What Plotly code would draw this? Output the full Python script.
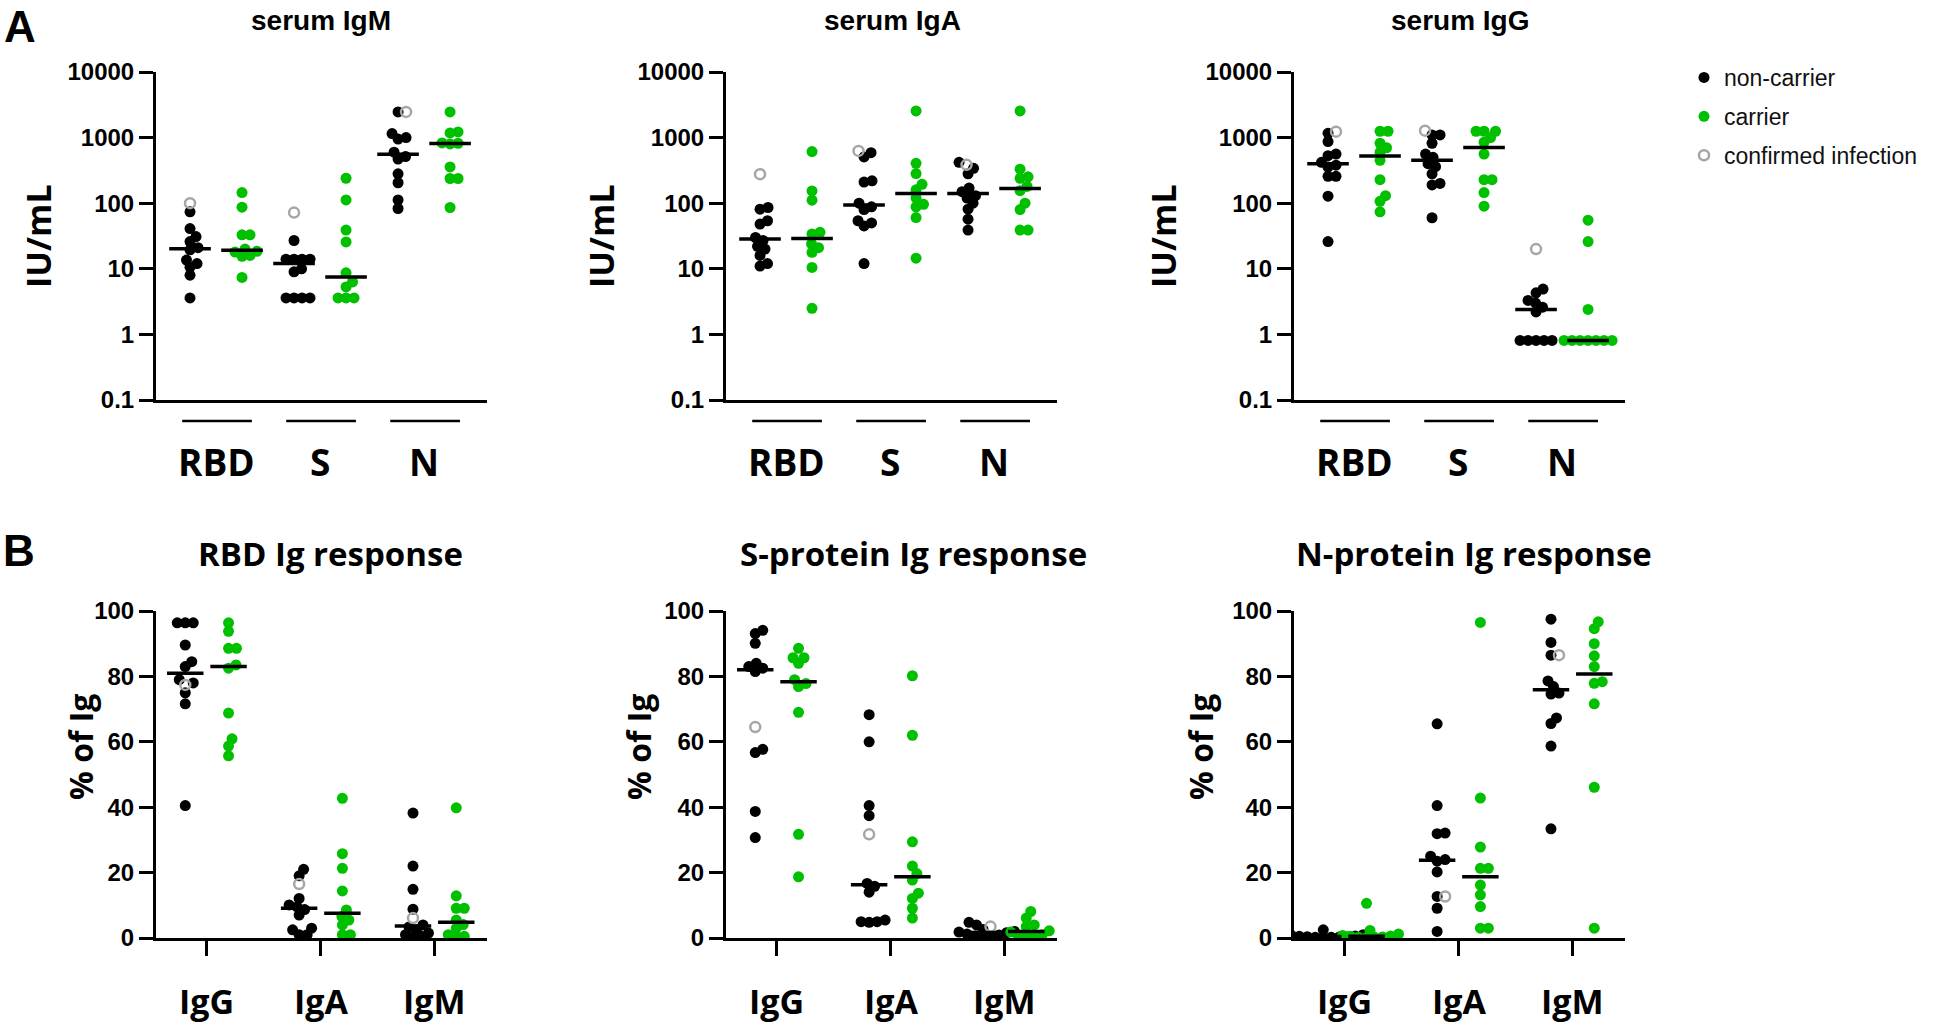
import numpy as np
import plotly.graph_objects as go

W, H = 1944, 1027

# ---------------- data ----------------
A_categories = ["RBD", "S", "N"]
B_categories = ["IgG", "IgA", "IgM"]
A_titles = ["serum IgM", "serum IgA", "serum IgG"]
B_titles = ["RBD Ig response", "S-protein Ig response", "N-protein Ig response"]
A_tickvals = [0.1, 1, 10, 100, 1000, 10000]
A_ticklabels = ["0.1", "1", "10", "100", "1000", "10000"]
B_tickvals = [0, 20, 40, 60, 80, 100]
B_ticklabels = ["0", "20", "40", "60", "80", "100"]

# Panel A: serum IU/mL, lists per antigen (RBD, S, N)
igm_noncarrier = [[74, 41, 31, 26, 21, 19.5, 13.6, 12, 10.6, 8.0, 3.6],
                  [27, 14, 14, 14, 14, 10, 9, 3.6, 3.6, 3.6, 3.6],
                  [2460, 1150, 1000, 950, 600, 515, 470, 280, 205, 112, 83]]
igm_confirmed = [100, 72, 2460]
igm_carrier = [[145, 87, 33, 33, 20, 18.5, 18, 16, 15.5, 7.4],
               [240, 112, 39, 25.7, 8.7, 6.3, 5.3, 3.6, 3.6, 3.6],
               [2460, 1220, 1180, 830, 820, 800, 357, 238, 238, 86]]

iga_noncarrier = [[86, 81, 54, 48, 30, 27, 22, 20, 16, 12, 11],
                  [590, 508, 219, 210, 100, 88, 80, 54, 50, 45, 12],
                  [420, 340, 280, 170, 150, 130, 120, 100, 81, 57, 39]]
iga_confirmed = [277, 626, 384]
iga_carrier = [[612, 154, 111, 36, 34, 24, 21, 17.8, 10.5, 2.5],
               [2550, 406, 283, 194, 160, 120, 96, 88, 60.5, 14.5],
               [2550, 330, 252, 240, 180, 155, 100, 80, 39, 39]]

igg_noncarrier = [[1164, 870, 560, 530, 420, 380, 355, 257, 257, 128, 26],
                  [1100, 1100, 820, 560, 500, 400, 360, 280, 200, 190, 60],
                  [4.9, 4.3, 3.3, 3.0, 2.6, 2.2, 0.81, 0.81, 0.81, 0.81, 0.81]]
igg_confirmed = [1233, 1276, 20]
igg_carrier = [[1250, 1250, 820, 700, 600, 450, 228, 130, 107, 74],
               [1250, 1250, 1250, 1000, 850, 560, 228, 228, 145, 90],
               [55, 26, 2.4, 0.81, 0.81, 0.81, 0.81, 0.81, 0.81, 0.81]]

# Panel B: % of Ig, lists per isotype (IgG, IgA, IgM)
rbd_noncarrier = [[96.4, 96.4, 96.4, 89.6, 84.5, 83, 79, 78, 75, 71.6, 40.5],
                  [21, 19, 12.1, 10.1, 9.5, 8.7, 7, 3, 2.5, 1, 1],
                  [38.2, 22, 14.9, 8.8, 4, 3.4, 2.5, 1.5, 1, 0.5, 0.3]]
rbd_confirmed = [77.4, 16.5, 6.1]
rbd_carrier = [[96.4, 93.8, 88.6, 88.6, 83.5, 82.5, 68.8, 60.9, 58.7, 55.7],
               [42.7, 25.8, 21.3, 14.4, 8.6, 6.6, 5.5, 4, 1, 1],
               [39.8, 12.9, 9.1, 9.1, 5.5, 4.1, 3, 1, 0.5, 0.5]]

s_noncarrier = [[94.1, 93.1, 90.1, 84, 83, 82.5, 81.5, 57.7, 56.7, 38.7, 30.7],
                [68.3, 60, 40.5, 37.4, 16.7, 15.8, 14, 5.5, 5, 5, 4.8],
                [4.8, 4.0, 2.6, 2.0, 1.8, 1.6, 1.2, 0.9, 0.6, 0.4, 0.2]]
s_confirmed = [64.5, 31.7, 3.5]
s_carrier = [[88.6, 85.7, 85.7, 84, 79, 77.8, 76.9, 69, 31.7, 18.7],
             [80.2, 62, 29.4, 22, 19.7, 17.7, 13.7, 12.1, 9.1, 6.1],
             [8.1, 6.1, 4, 3.5, 2.2, 1.8, 1, 0.8, 0.5, 0.3]]

n_noncarrier = [[2.5, 1.5, 1, 0.8, 0.6, 0.5, 0.4, 0.3, 0.2, 0.2, 0.1],
                [65.5, 40.5, 32.1, 31.9, 25, 24, 23.5, 20.2, 12.7, 9.1, 2],
                [97.5, 90.4, 86.5, 78.6, 76.9, 74.9, 74.6, 67.3, 65.6, 58.7, 33.4]]
n_confirmed = [0.4, 12.7, 86.5]
n_carrier = [[10.6, 2.3, 1.2, 0.8, 0.6, 0.5, 0.3, 0.2, 0.2, 0.1],
             [96.5, 42.8, 27.8, 21.3, 21.3, 16.2, 13.2, 9.6, 3, 3],
             [96.7, 94.6, 90, 86.3, 83, 78.4, 77.9, 71.6, 46.1, 3]]

# ---------------- layout geometry ----------------
COL_X = [156, 726, 1294]
PLOT_W = 331
ROW_A = (72, 400)
ROW_B = (611, 938)
A_XRANGE = [-0.654, 5.71]      # 52 px per unit
B_XRANGE = [-0.447, 2.46]      # 114 px per unit
A_PX_PER_UNIT = 52.0
B_PX_PER_UNIT = 114.0
A_PX_PER_DECADE = (ROW_A[1] - ROW_A[0]) / 5.0
B_PX_PER_PCT = (ROW_B[1] - ROW_B[0]) / 100.0

BLACK = "#000000"
GREEN = "#00c000"
GRAY = "#a6a6a6"
MSIZE = 11


def swarm(py, min_dist=7.8, step=0.5):
    py = np.asarray(py, float)
    order = np.argsort(py, kind="stable")
    placed = []
    offs = np.zeros(len(py))
    for i in order:
        k = 0
        found = None
        while found is None:
            cands = [0.0] if k == 0 else [k * step, -k * step]
            for c in cands:
                if all((c - ox) ** 2 + (py[i] - oy) ** 2 >= min_dist ** 2 for ox, oy in placed):
                    found = c
                    break
            k += 1
        offs[i] = found
        placed.append((found, py[i]))
    return offs


fig = go.Figure()

panels = [
    dict(kind="A", nc=igm_noncarrier, inf=igm_confirmed, c=igm_carrier),
    dict(kind="A", nc=iga_noncarrier, inf=iga_confirmed, c=iga_carrier),
    dict(kind="A", nc=igg_noncarrier, inf=igg_confirmed, c=igg_carrier),
    dict(kind="B", nc=rbd_noncarrier, inf=rbd_confirmed, c=rbd_carrier),
    dict(kind="B", nc=s_noncarrier, inf=s_confirmed, c=s_carrier),
    dict(kind="B", nc=n_noncarrier, inf=n_confirmed, c=n_carrier),
]

first_legend = True
for p_i, pan in enumerate(panels):
    ax = "" if p_i == 0 else str(p_i + 1)
    xa, ya = "x" + ax, "y" + ax
    isA = pan["kind"] == "A"
    for g in range(3):
        if isA:
            pos_nc, pos_c = 2 * g, 2 * g + 1
            to_px = lambda v: np.log10(np.asarray(v, float)) * A_PX_PER_DECADE
            ppu = A_PX_PER_UNIT
            half = 0.40
        else:
            pos_nc, pos_c = g - 0.19, g + 0.19
            to_px = lambda v: np.asarray(v, float) * B_PX_PER_PCT
            ppu = B_PX_PER_UNIT
            half = 0.16
        nc_vals = list(pan["nc"][g])
        inf_val = pan["inf"][g]
        all_nc = nc_vals + [inf_val]
        offs_nc = swarm(to_px(all_nc)) / ppu
        c_vals = list(pan["c"][g])
        offs_c = swarm(to_px(c_vals)) / ppu

        show = first_legend and g == 0
        fig.add_trace(go.Scatter(
            x=list(pos_nc + offs_nc[:-1]), y=nc_vals, mode="markers",
            marker=dict(color=BLACK, size=MSIZE, line=dict(width=0)),
            name="non-carrier", legendrank=1, legendgroup="nc",
            showlegend=show, xaxis=xa, yaxis=ya, hoverinfo="y"))
        fig.add_trace(go.Scatter(
            x=[pos_nc + offs_nc[-1]], y=[inf_val], mode="markers",
            marker=dict(color=GRAY, size=MSIZE - 1, symbol="circle-open", line=dict(width=2.5, color=GRAY)),
            name="confirmed infection", legendrank=3, legendgroup="inf",
            showlegend=show, xaxis=xa, yaxis=ya, hoverinfo="y"))
        fig.add_trace(go.Scatter(
            x=list(pos_c + offs_c), y=c_vals, mode="markers",
            marker=dict(color=GREEN, size=MSIZE, line=dict(width=0)),
            name="carrier", legendrank=2, legendgroup="c",
            showlegend=show, xaxis=xa, yaxis=ya, hoverinfo="y"))
        med_nc = float(np.median(all_nc))
        med_c = float(np.median(c_vals))
        for pos, med in ((pos_nc, med_nc), (pos_c, med_c)):
            fig.add_trace(go.Scatter(
                x=[pos - half, pos + half], y=[med, med], mode="lines",
                line=dict(color=BLACK, width=3.5), showlegend=False,
                xaxis=xa, yaxis=ya, hoverinfo="skip"))
    first_legend = False

# ---------------- axes ----------------
layout_axes = {}
for p_i in range(6):
    col = p_i % 3
    isA = p_i < 3
    ax = "" if p_i == 0 else str(p_i + 1)
    x0 = COL_X[col]
    top, bot = ROW_A if isA else ROW_B
    xdom = [x0 / W, (x0 + PLOT_W) / W]
    ydom = [1 - bot / H, 1 - top / H]
    xa = dict(domain=xdom, anchor="y" + ax, showline=True, linewidth=3, linecolor=BLACK,
              showgrid=False, zeroline=False, fixedrange=True, automargin=False)
    ya = dict(domain=ydom, anchor="x" + ax, showline=True, linewidth=3, linecolor=BLACK,
              showgrid=False, zeroline=False, ticks="outside", ticklen=14, tickwidth=3,
              tickcolor=BLACK, fixedrange=True, automargin=False,
              tickfont=dict(family="Liberation Sans, Arial", size=24, color=BLACK, weight="bold"))
    if isA:
        xa.update(range=A_XRANGE, showticklabels=False, ticks="")
        ya.update(type="log", range=[-1, 4], tickvals=A_tickvals, ticktext=A_ticklabels)
    else:
        xa.update(range=B_XRANGE, showticklabels=False, ticks="outside", ticklen=15,
                  tickwidth=3, tickcolor=BLACK, tickvals=[0, 1, 2])
        ya.update(range=[0, 100], tickvals=B_tickvals, ticktext=B_ticklabels)
    layout_axes["xaxis" + ax] = xa
    layout_axes["yaxis" + ax] = ya

fig.update_layout(**layout_axes)

# ---------------- annotations & shapes ----------------
ann = []
shapes = []


def txt(text, px, py, size, family, rot=0, weight="bold", xanchor="center",
        yanchor="middle", color=BLACK):
    ann.append(dict(text=text, x=px / W, y=1 - py / H, xref="paper", yref="paper",
                    showarrow=False, textangle=rot, xanchor=xanchor, yanchor=yanchor,
                    font=dict(size=size, family=family, color=color, weight=weight)))


TITLE_FONT = "Liberation Sans, Arial"
OS = "Open Sans"
a_title_x = [321, 892, 1460]
b_title_x = [330, 913, 1474]
iu_x = [38, 601, 1163]
pct_x = [80, 638, 1200]
for col in range(3):
    txt(A_titles[col], a_title_x[col], 21, 28, TITLE_FONT)
    txt(B_titles[col], b_title_x[col], 553, 33, OS)
    txt("IU/mL", iu_x[col], 236, 34, OS, rot=-90)
    txt("% of Ig", pct_x[col], 747, 32, OS, rot=-90)
    ax = "" if col == 0 else str(col + 1)
    axb = str(col + 4)
    for g, lab in enumerate(A_categories):
        ann.append(dict(text=lab, x=2 * g + 0.5, y=1 - 461 / H, xref="x" + ax, yref="paper",
                        showarrow=False, xanchor="center", yanchor="middle",
                        font=dict(size=37, family=OS, color=BLACK, weight="bold")))
        shapes.append(dict(type="line", xref="x" + ax, yref="paper",
                           x0=2 * g - 0.15, x1=2 * g + 1.19, y0=1 - 421 / H, y1=1 - 421 / H,
                           line=dict(color=BLACK, width=2.5)))
    for g, lab in enumerate(B_categories):
        ann.append(dict(text=lab, x=g, y=1 - 1001 / H, xref="x" + axb, yref="paper",
                        showarrow=False, xanchor="center", yanchor="middle",
                        font=dict(size=34, family=OS, color=BLACK, weight="bold")))

txt("A", 20, 0, 44, TITLE_FONT, yanchor="top")
txt("B", 19, 524, 44, TITLE_FONT, yanchor="top")

fig.update_layout(
    annotations=ann, shapes=shapes,
    width=W, height=H, autosize=False,
    margin=dict(l=0, r=0, t=0, b=0, autoexpand=False),
    paper_bgcolor="white", plot_bgcolor="white",
    showlegend=True,
    legend=dict(x=1684 / W, y=1 - 56 / H, xanchor="left", yanchor="top",
                font=dict(family="Liberation Sans, Arial", size=23, color="#111111"),
                bgcolor="rgba(0,0,0,0)", tracegroupgap=6, traceorder="grouped",
                itemwidth=30),
)

fig.write_html("out.html", config={"displayModeBar": False},
               post_script="document.body.style.margin='0px';document.body.style.overflow='hidden';")
